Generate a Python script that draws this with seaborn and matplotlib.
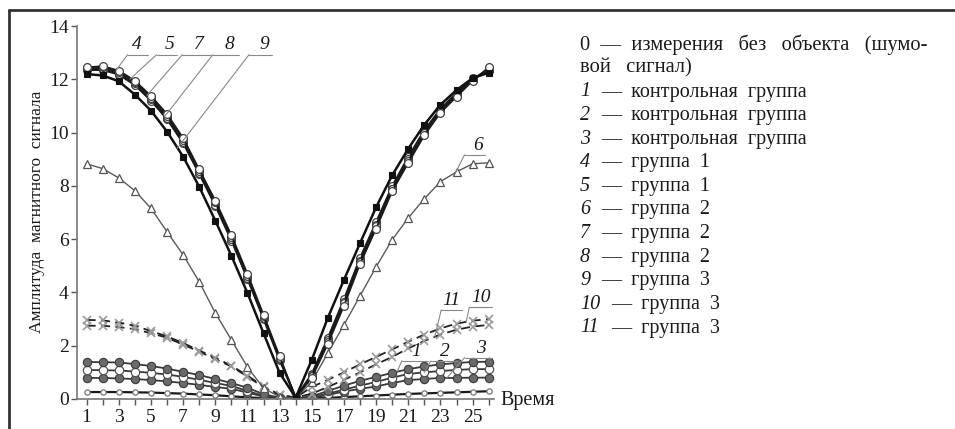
import numpy as np
import pandas as pd
import matplotlib
matplotlib.use("Agg")
import matplotlib.pyplot as plt
import seaborn as sns
from matplotlib.ticker import FixedLocator
from matplotlib.lines import Line2D

# ---------------- data ----------------
time = list(range(1, 27))

s0 = [0.26, 0.26, 0.26, 0.25, 0.24, 0.22, 0.20, 0.17, 0.14, 0.10, 0.06, 0.03, 0.01, 0.00,
      0.02, 0.04, 0.07, 0.10, 0.13, 0.16, 0.19, 0.21, 0.23, 0.25, 0.27, 0.29]
s1 = [1.39, 1.38, 1.37, 1.31, 1.24, 1.14, 1.02, 0.90, 0.75, 0.60, 0.42, 0.18, 0.05, 0.02,
      0.10, 0.30, 0.50, 0.68, 0.83, 0.98, 1.12, 1.22, 1.30, 1.35, 1.39, 1.40]
s2 = [1.09, 1.08, 1.07, 1.03, 0.98, 0.92, 0.83, 0.72, 0.60, 0.49, 0.30, 0.12, 0.04, 0.02,
      0.07, 0.20, 0.35, 0.50, 0.64, 0.80, 0.94, 1.00, 1.05, 1.09, 1.12, 1.12]
s3 = [0.79, 0.79, 0.77, 0.75, 0.71, 0.66, 0.60, 0.53, 0.45, 0.38, 0.24, 0.09, 0.03, 0.02,
      0.05, 0.15, 0.28, 0.38, 0.47, 0.60, 0.71, 0.75, 0.79, 0.79, 0.80, 0.80]
s4 = [12.45, 12.50, 12.33, 11.95, 11.38, 10.70, 9.80, 8.62, 7.45, 6.15, 4.70, 3.16, 1.60, 0.05,
      0.80, 2.07, 3.50, 5.07, 6.40, 7.80, 8.87, 9.90, 10.75, 11.35, 11.95, 12.45]
s5 = [12.42, 12.45, 12.28, 11.90, 11.32, 10.62, 9.72, 8.55, 7.38, 6.08, 4.62, 3.10, 1.55, 0.05,
      0.85, 2.15, 3.60, 5.15, 6.50, 7.88, 8.95, 9.97, 10.80, 11.40, 12.00, 12.40]
s6 = [8.83, 8.65, 8.30, 7.82, 7.16, 6.28, 5.41, 4.40, 3.23, 2.22, 1.20, 0.40, 0.08, 0.02,
      0.65, 1.73, 2.78, 3.87, 4.96, 5.98, 6.80, 7.52, 8.16, 8.53, 8.83, 8.87]
s7 = [12.38, 12.40, 12.22, 11.85, 11.25, 10.55, 9.65, 8.50, 7.30, 6.00, 4.55, 3.05, 1.50, 0.05,
      0.90, 2.20, 3.65, 5.20, 6.55, 7.90, 9.00, 10.00, 10.85, 11.45, 12.00, 12.35]
s8 = [12.35, 12.35, 12.18, 11.78, 11.20, 10.50, 9.60, 8.45, 7.25, 5.95, 4.50, 3.00, 1.45, 0.05,
      0.95, 2.30, 3.75, 5.30, 6.65, 8.00, 9.10, 10.10, 10.90, 11.50, 12.05, 12.30]
s9 = [12.20, 12.15, 11.93, 11.43, 10.83, 10.04, 9.10, 7.97, 6.70, 5.38, 3.98, 2.47, 0.98, 0.05,
      1.47, 3.05, 4.47, 5.85, 7.20, 8.40, 9.40, 10.30, 11.05, 11.60, 12.05, 12.25]
s10 = [2.97, 2.95, 2.87, 2.75, 2.55, 2.35, 2.10, 1.82, 1.55, 1.25, 0.88, 0.47, 0.16, 0.05,
       0.45, 0.72, 1.00, 1.30, 1.58, 1.86, 2.15, 2.42, 2.65, 2.83, 2.94, 3.00]
s11 = [2.75, 2.75, 2.70, 2.62, 2.47, 2.30, 2.04, 1.78, 1.50, 1.22, 0.84, 0.44, 0.14, 0.05,
       0.20, 0.45, 0.72, 1.00, 1.30, 1.58, 1.90, 2.18, 2.42, 2.60, 2.72, 2.78]

y_ticks = [0, 2, 4, 6, 8, 10, 12, 14]
x_ticks = [1, 3, 5, 7, 9, 11, 13, 15, 17, 19, 21, 23, 25]

legend_nums = ["1", "2", "3", "4", "5", "6", "7", "8", "9", "10", "11"]
legend_desc = ["контрольная  группа", "контрольная  группа", "контрольная  группа",
               "группа  1", "группа  1", "группа  2", "группа  2", "группа  2",
               "группа  3", "группа  3", "группа  3"]

# ---------------- style ----------------
sns.set_style("white")
plt.rcParams["font.family"] = ["Liberation Serif", "DejaVu Serif"]

fig = plt.figure(figsize=(9.55, 4.29), dpi=100)
ax = fig.add_axes([0.0806, 0.070, 0.437, 0.869])

series = {"0": s0, "1": s1, "2": s2, "3": s3, "4": s4, "5": s5, "6": s6,
          "7": s7, "8": s8, "9": s9, "10": s10, "11": s11}

circ = dict(color="#1a1a1a", lw=1.3, marker="o", ms=5.6, mfc="white", mec="#404040", mew=0.9)
styles = {
    "0": dict(color="#1a1a1a", lw=1.6, marker="o", ms=3.8, mfc="white", mec="#777777", mew=0.9),
    "3": dict(color="#3a3a3a", lw=1.3, marker="o", ms=6.0, mfc="#6a6a6a", mec="#3a3a3a", mew=0.8),
    "2": dict(color="#3a3a3a", lw=1.3, marker="o", ms=6.0, mfc="white", mec="#555555", mew=0.9),
    "1": dict(color="#3a3a3a", lw=1.3, marker="o", ms=6.0, mfc="#6a6a6a", mec="#3a3a3a", mew=0.8),
    "11": dict(color="#222222", lw=1.3, ls=(0, (5, 3)), marker="x", ms=5.5, mec="#9a9a9a", mew=1.2),
    "10": dict(color="#222222", lw=1.3, ls=(0, (5, 3)), marker="x", ms=5.5, mec="#9a9a9a", mew=1.2),
    "6": dict(color="#5a5a5a", lw=1.0, marker="^", ms=5.8, mfc="white", mec="#555555", mew=0.9),
    "8": circ, "7": circ, "5": circ, "4": circ,
    "9": dict(color="#111111", lw=1.8, marker="s", ms=5.0, mfc="#111111", mec="#111111", mew=0.8),
}

for key, st in styles.items():
    df = pd.DataFrame({"t": time, "v": series[key]})
    st = dict(st)
    color = st.pop("color")
    sns.lineplot(data=df, x="t", y="v", ax=ax, color=color, legend=False, **st)

ax.set_xlim(0.4, 26.35)
ax.set_ylim(0, 14)
ax.set_xlabel("")
ax.set_ylabel("")
ax.xaxis.set_major_locator(FixedLocator(x_ticks))
ax.xaxis.set_minor_locator(FixedLocator(time))
ax.yaxis.set_major_locator(FixedLocator(y_ticks))
ax.set_xticklabels([str(v) for v in x_ticks])
ax.set_yticklabels([str(v) for v in y_ticks])
ax.tick_params(axis="both", which="both", direction="out", length=4, width=1,
               color="#555555", labelsize=14, labelcolor="#1a1a1a", pad=2)
ax.tick_params(axis="x", which="both", bottom=True, length=4, pad=3)
ax.tick_params(axis="y", left=True)
for side in ["top", "right"]:
    ax.spines[side].set_visible(False)
for side in ["left", "bottom"]:
    ax.spines[side].set_color("#777777")
    ax.spines[side].set_linewidth(1.2)
ax.patch.set_alpha(0)

# ---------------- curve labels with leader lines ----------------
def leader(label, series_vals, x_on_curve, text_xy, ul):
    y_on = float(np.interp(x_on_curve, time, series_vals))
    ax.text(text_xy[0], text_xy[1], label, style="italic", fontsize=14,
            ha="center", va="center", color="#1a1a1a")
    ax.add_line(Line2D([ul[0], ul[1]], [ul[2], ul[2]], color="#888888", lw=0.8))
    ax.add_line(Line2D([ul[0], x_on_curve], [ul[2], y_on], color="#888888", lw=0.8))

leader("4", s4, 2.85, (4.1, 13.3), (3.55, 4.8, 12.93))
leader("5", s5, 3.7, (6.15, 13.3), (5.35, 6.6, 12.93))
leader("7", s7, 4.75, (8.0, 13.3), (6.95, 8.75, 12.93))
leader("8", s8, 5.85, (9.9, 13.3), (8.85, 10.5, 12.93))
leader("9", s9, 6.65, (12.05, 13.3), (11.1, 12.55, 12.93))
leader("6", s6, 23.95, (25.35, 9.5), (24.5, 25.75, 9.17))
leader("11", s11, 22.65, (23.7, 3.7), (23.05, 24.35, 3.35))
leader("10", s10, 24.6, (25.5, 3.8), (24.8, 26.2, 3.45))
leader("1", s1, 20.3, (21.5, 1.8), (20.6, 22.2, 1.43))
leader("2", s2, 22.0, (23.3, 1.8), (22.4, 24.0, 1.43))
leader("3", s3, 23.4, (25.5, 1.9), (24.5, 26.2, 1.55))

# ---------------- axis titles ----------------
fig.text(37 / 955, 0.506, "Амплитуда  магнитного  сигнала", rotation=90,
         ha="center", va="center", fontsize=12.5, color="#1a1a1a")
fig.text(500 / 955, (429 - 401) / 429, "Время", ha="left", va="center",
         fontsize=14.5, color="#1a1a1a")

# ---------------- legend text ----------------
W, H = 955, 429
x0 = 580
fig.text(x0 / W, (H - 45) / H, "0  —  измерения   без   объекта   (шумо-",
         ha="left", va="center", fontsize=14.8, color="#1a1a1a")
fig.text(x0 / W, (H - 68) / H, "вой   сигнал)", ha="left", va="center",
         fontsize=14.8, color="#1a1a1a")
for i, (n, d) in enumerate(zip(legend_nums, legend_desc)):
    yy = (H - (92 + i * 23.6)) / H
    fig.text(x0 / W, yy, n, style="italic", ha="left", va="center",
             fontsize=14.5, color="#1a1a1a")
    off = 21 if len(n) == 1 else 31
    fig.text((x0 + off) / W, yy, "—  " + d, ha="left", va="center",
             fontsize=14.5, color="#1a1a1a")

# ---------------- outer frame (top and left visible) ----------------
fig.add_artist(Line2D([8.5 / W, 8.5 / W], [0, (H - 10) / H], transform=fig.transFigure,
                      color="#333333", lw=2))
fig.add_artist(Line2D([8.5 / W, 1], [(H - 10) / H, (H - 10) / H], transform=fig.transFigure,
                      color="#333333", lw=2))

fig.savefig("out.png", dpi=100, facecolor="white")
